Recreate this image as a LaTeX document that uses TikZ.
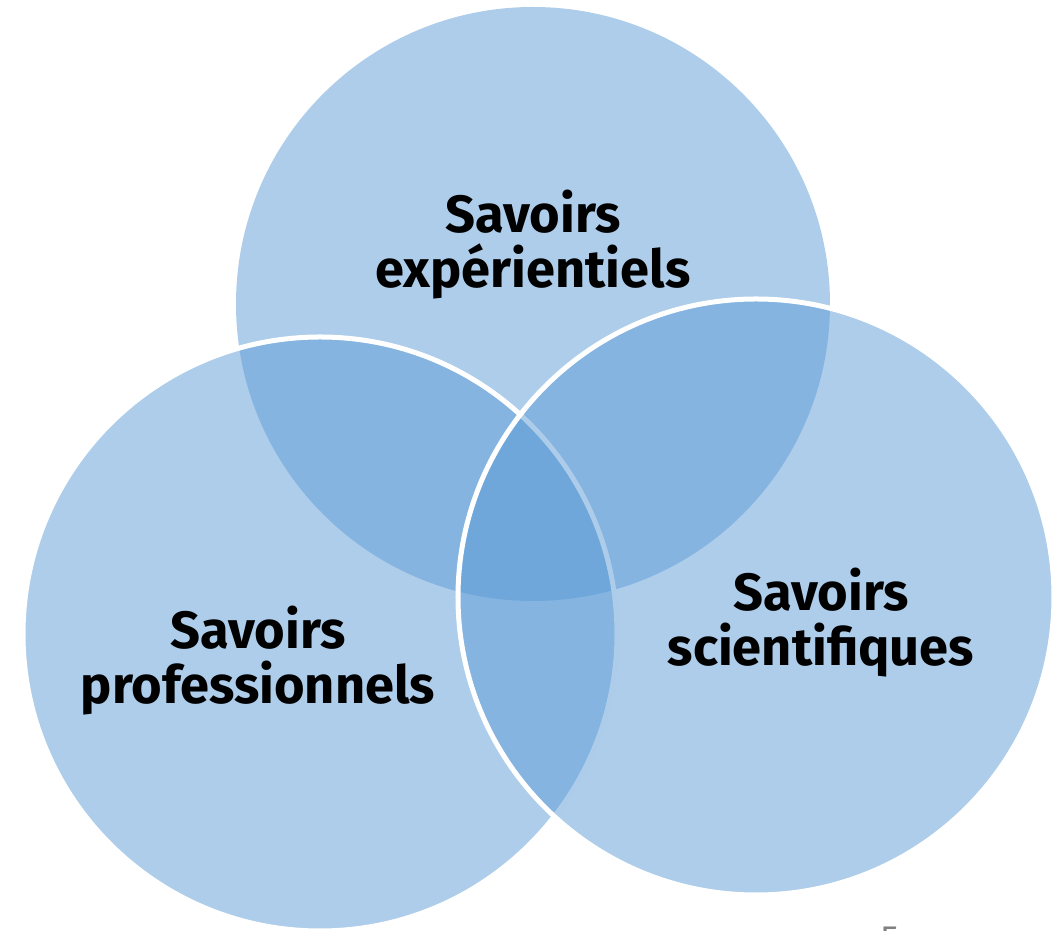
\documentclass[tikz,border=0pt]{standalone}
\usepackage{fontspec}
\setmainfont{Fira Sans}
\usepackage{xcolor}
\usepackage{tikz}

\definecolor{savblue}{RGB}{91,155,213}

\tikzset{
  savoir/.style={fill=savblue, fill opacity=0.5},
  savline/.style={draw=white, line width=0.05cm, draw opacity=1},
  savtext/.style={font=\bfseries\fontsize{14.9}{15.9}\selectfont, align=center, anchor=base, inner sep=0pt}
}

\begin{document}
\begin{tikzpicture}[x=0.01cm, y=-0.01cm]

\useasboundingbox (0,0) rectangle (1053,931);

% the three circles
\fill[savoir] (533,304) circle (297);
\draw[savoir, savline] (320,634) circle (297);
\draw[savoir, savline] (756,597) circle (298);

% labels (base = baseline of the last line)
\node[savtext] (exp) at (533,288) {Savoirs\\expérientiels};
\node[savtext] (pro) at (258,704) {Savoirs\\professionnels};
\node[savtext] (sci) at (821,666) {Savoirs\\scientifiques};

% slide number
\node[anchor=north, inner sep=0pt, text=gray, font=\fontsize{10}{12}\selectfont] (num) at (890,926) {5};

\end{tikzpicture}
\end{document}
